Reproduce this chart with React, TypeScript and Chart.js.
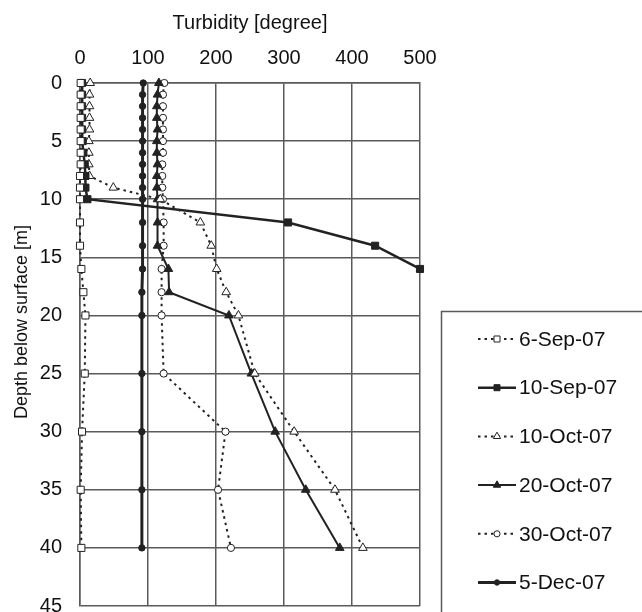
import React, { useEffect, useRef } from 'react';
import { Chart, registerables } from 'chart.js';

Chart.register(...registerables);

// ---- Data (depth in m, turbidity in degree) ----
const depths = [0, 1, 2, 3, 4, 5, 6, 7, 8, 9, 10, 12, 14, 16, 18, 20, 25, 30, 35, 40];
const depths10Sep = [0, 1, 2, 3, 4, 5, 6, 7, 8, 9, 10, 12, 14, 16, 18];

const turb6Sep = [1, 1, 1, 1, 1, 1, 1, 1, 0, 0, 0, 0, 0, 2, 5, 8, 7, 3, 1, 2];
const turb10Sep = [3, 3, 3, 3, 3, 4, 5, 7, 8, 8, 11, 306, 434, 500, 507];
const turb10Oct = [15, 14, 14, 14, 14, 13, 13, 13, 14, 49, 118, 177, 193, 201, 215, 233, 257, 315, 375, 416];
const turb20Oct = [116, 114, 113, 113, 114, 113, 113, 114, 113, 113, 114, 114, 114, 130, 131, 219, 252, 287, 332, 382];
const turb30Oct = [124, 122, 122, 122, 122, 122, 122, 121, 121, 121, 122, 123, 123, 120, 120, 120, 123, 214, 203, 222];
const turb5Dec = [93, 92, 92, 92, 92, 92, 92, 92, 92, 92, 92, 92, 92, 92, 91, 91, 91, 91, 91, 91];

const seriesLabels = ['6-Sep-07', '10-Sep-07', '10-Oct-07', '20-Oct-07', '30-Oct-07', '5-Dec-07'];

const xTitle = 'Turbidity [degree]';
const yTitle = 'Depth below surface [m]';
const xMin = 0;
const xMax = 500;
const xStep = 100;
const yMin = 0;
const yMax = 45;
const yStep = 5;

const FONT = "'Liberation Sans', Arial, sans-serif";
const INK = '#222';
const GRID = '#5a5a5a';

function pts(ds: number[], vals: number[]) {
  return vals.map((v, i) => ({ x: v, y: ds[i] }));
}

const yTitlePlugin = {
  id: 'yTitle',
  afterDraw(chart: any) {
    const ctx = chart.ctx;
    ctx.save();
    ctx.translate(22, 322);
    ctx.rotate(-Math.PI / 2);
    ctx.font = `18px ${FONT}`;
    ctx.fillStyle = '#111';
    ctx.textAlign = 'center';
    ctx.textBaseline = 'middle';
    ctx.fillText(yTitle, 0, 0);
    ctx.restore();
  },
};

function drawMarker(ctx: CanvasRenderingContext2D, style: string, x: number, y: number, r: number, fill: string) {
  ctx.beginPath();
  if (style === 'rect') {
    const s = r * Math.SQRT1_2;
    ctx.rect(x - s, y - s, 2 * s, 2 * s);
  } else if (style === 'triangle') {
    ctx.moveTo(x, y - r);
    ctx.lineTo(x + r * 0.866, y + r * 0.5);
    ctx.lineTo(x - r * 0.866, y + r * 0.5);
    ctx.closePath();
  } else {
    ctx.arc(x, y, r, 0, Math.PI * 2);
  }
  ctx.fillStyle = fill;
  ctx.fill();
  ctx.lineWidth = 1;
  ctx.strokeStyle = INK;
  ctx.setLineDash([]);
  ctx.stroke();
}

const boxLegendPlugin = {
  id: 'boxLegend',
  afterDraw(chart: any) {
    const ctx = chart.ctx as CanvasRenderingContext2D;
    ctx.save();
    ctx.strokeStyle = GRID;
    ctx.lineWidth = 1.5;
    ctx.setLineDash([]);
    ctx.strokeRect(441.5, 311.5, 300, 400);
    chart.data.datasets.forEach((ds: any, i: number) => {
      const y = 339 + i * 48.7;
      ctx.beginPath();
      ctx.setLineDash(ds.borderDash || []);
      ctx.strokeStyle = ds.borderColor;
      ctx.lineWidth = ds.borderWidth;
      ctx.moveTo(478, y);
      ctx.lineTo(516, y);
      ctx.stroke();
      const r = Array.isArray(ds.pointRadius) ? ds.pointRadius[0] : ds.pointRadius;
      drawMarker(ctx, ds.pointStyle, 497, y, r * 0.85, ds.pointBackgroundColor);
      ctx.setLineDash([]);
      ctx.fillStyle = '#111';
      ctx.font = `21px ${FONT}`;
      ctx.textAlign = 'left';
      ctx.textBaseline = 'middle';
      ctx.fillText(ds.label, 519, y + 1);
    });
    ctx.restore();
  },
};

export default function App() {
  const ref = useRef<HTMLCanvasElement | null>(null);

  useEffect(() => {
    if (!ref.current) return;
    Chart.defaults.font.family = FONT;
    const dotted = [2.5, 4];
    const base = {
      showLine: true,
      borderColor: INK,
      pointBorderColor: INK,
      pointBorderWidth: 1,
      clip: false as any,
      borderCapStyle: 'butt' as const,
    };
    const radius10Sep = depths10Sep.map((_, i) => (i === depths10Sep.length - 1 ? 0 : 5));
    const chart = new Chart(ref.current, {
      type: 'scatter',
      data: {
        datasets: [
          {
            ...base,
            label: seriesLabels[0],
            data: pts(depths, turb6Sep),
            borderWidth: 2,
            borderDash: dotted,
            pointStyle: 'rect',
            pointRadius: 5,
            pointBackgroundColor: '#fff',
          },
          {
            ...base,
            label: seriesLabels[1],
            data: pts(depths10Sep, turb10Sep),
            borderWidth: 2.5,
            pointStyle: 'rect',
            pointRadius: radius10Sep,
            pointBackgroundColor: INK,
          },
          {
            ...base,
            label: seriesLabels[2],
            data: pts(depths, turb10Oct),
            borderWidth: 2,
            borderDash: dotted,
            pointStyle: 'triangle',
            pointRadius: 5,
            pointBackgroundColor: '#fff',
          },
          {
            ...base,
            label: seriesLabels[3],
            data: pts(depths, turb20Oct),
            borderWidth: 2,
            pointStyle: 'triangle',
            pointRadius: 5,
            pointBackgroundColor: INK,
          },
          {
            ...base,
            label: seriesLabels[4],
            data: pts(depths, turb30Oct),
            borderWidth: 2,
            borderDash: dotted,
            pointStyle: 'circle',
            pointRadius: 3.6,
            pointBackgroundColor: '#fff',
          },
          {
            ...base,
            label: seriesLabels[5],
            data: pts(depths, turb5Dec),
            borderWidth: 3,
            pointStyle: 'circle',
            pointRadius: 3.2,
            pointBackgroundColor: INK,
          },
        ] as any,
      },
      options: {
        animation: false,
        responsive: false,
        devicePixelRatio: 1,
        layout: { padding: { left: 0, top: 0, right: 222, bottom: 6 } },
        plugins: {
          legend: { display: false },
          tooltip: { enabled: false },
        },
        scales: {
          x: {
            type: 'linear',
            position: 'top',
            min: xMin,
            max: xMax,
            ticks: { stepSize: xStep, padding: 13, color: '#111', font: { size: 20, family: FONT } },
            grid: { color: GRID, lineWidth: 1.5, drawTicks: false },
            border: { color: GRID, width: 1.5 },
            title: {
              display: true,
              text: xTitle,
              color: '#111',
              font: { size: 20, family: FONT },
              padding: { top: 11, bottom: 0 },
            },
            afterFit: (s: any) => {
              s.height = 83;
            },
          },
          y: {
            type: 'linear',
            reverse: true,
            min: yMin,
            max: yMax,
            ticks: { stepSize: yStep, padding: 18, color: '#111', font: { size: 20, family: FONT } },
            grid: { color: GRID, lineWidth: 1.5, drawTicks: false },
            border: { color: GRID, width: 1.5 },
            afterFit: (s: any) => {
              s.width = 80;
              s.paddingTop = 0;
              s.paddingBottom = 0;
            },
          },
        } as any,
      },
      plugins: [yTitlePlugin, boxLegendPlugin],
    });
    return () => chart.destroy();
  }, []);

  return (
    <div style={{ position: 'fixed', left: 0, top: 0, width: 642, height: 612, background: '#fff' }}>
      <canvas ref={ref} width={642} height={612} style={{ display: 'block' }} />
    </div>
  );
}
